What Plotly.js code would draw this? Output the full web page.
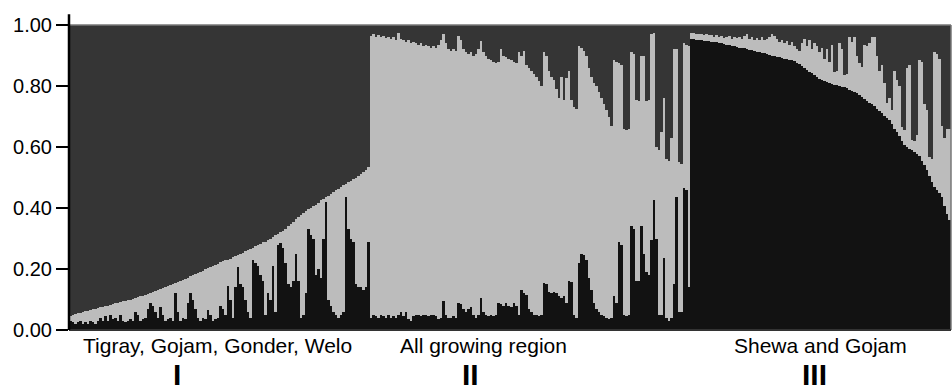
<!DOCTYPE html>
<html><head><meta charset="utf-8">
<script src="https://cdn.plot.ly/plotly-3.0.1.min.js"></script>
<style>html,body{margin:0;padding:0;background:#fff;}#chart{width:952px;height:392px;}</style>
</head><body><div id="chart"></div>
<script>
// Group labels and numerals
const groupLabels = ["Tigray, Gojam, Gonder, Welo", "All growing region", "Shewa and Gojam"];
const groupNumerals = ["I", "II", "III"];
const yTickVals = [0, 0.2, 0.4, 0.6, 0.8, 1.0];
const yTickText = ["0.00", "0.20", "0.40", "0.60", "0.80", "1.00"];

// Group I: black membership and top of light-gray component (cumulative), per individual
const blackI = [0.03,0.025,0.02,0.025,0.03,0.02,0.025,0.02,0.03,0.025,0.02,0.03,
0.04,0.03,0.045,0.03,0.05,0.035,0.04,0.03,0.05,
0.03,0.025,0.03,0.035,0.03,
0.06,0.05,
0.03,0.035,0.04,
0.07,0.09,0.08,0.06,0.04,
0.077,0.05,
0.03,0.035,0.04,0.03,
0.12,0.06,
0.03,0.04,0.035,
0.09,0.12,0.10,0.07,0.04,
0.03,0.04,0.035,
0.065,0.05,
0.03,0.035,0.04,
0.08,0.07,0.05,
0.144,0.10,
0.04,
0.14,0.207,0.15,0.14,
0.10,0.06,
0.04,
0.23,0.22,0.21,0.18,0.16,
0.05,
0.12,0.10,
0.21,
0.06,
0.28,0.285,0.27,0.22,
0.15,0.14,0.16,
0.25,
0.16,
0.04,0.05,0.12,
0.33,0.31,0.30,
0.18,0.20,0.17,
0.30,
0.42,0.10,
0.08,0.06,0.05,0.04,0.05,0.06,
0.437,
0.33,0.30,0.29,
0.15,0.14,0.14,0.13,0.14,
0.29];
const lightTopI = [0.045,0.05,0.052,0.055,0.057,0.06,0.062,0.063,0.066,0.068,
0.07,0.072,0.074,0.076,0.078,0.08,0.083,0.085,0.087,0.09,
0.092,0.094,0.096,0.098,0.10,0.102,0.105,0.107,0.11,0.113,
0.115,0.118,0.12,0.124,0.127,0.13,0.133,0.137,0.14,0.144,
0.148,0.151,0.155,0.158,0.162,0.165,0.168,0.172,0.176,0.18,
0.185,0.188,0.19,0.195,0.2,0.203,0.205,0.21,0.214,0.218,
0.222,0.225,0.228,0.23,0.234,0.238,0.242,0.245,0.248,0.252,
0.258,0.262,0.266,0.27,0.274,0.278,0.282,0.287,0.29,0.295,
0.30,0.305,0.31,0.315,0.32,0.326,0.332,0.34,0.348,0.355,
0.365,0.372,0.378,0.385,0.39,0.396,0.40,0.405,0.41,0.415,
0.425,0.43,0.436,0.44,0.446,0.452,0.458,0.462,0.468,0.474,
0.48,0.486,0.49,0.496,0.50,0.506,0.512,0.518,0.525,0.535];

// Group II
const blackII = [0.04,0.05,0.045,0.04,0.05,0.045,0.04,0.05,0.04,0.045,
0.04,0.05,0.06,0.045,0.06,0.035,0.03,0.045,0.05,0.05,
0.045,0.05,0.05,0.045,0.05,0.05,0.045,0.035,0.04,0.096,
0.05,0.04,0.04,0.045,0.04,0.09,0.085,0.07,0.06,0.07,
0.075,0.05,0.04,0.05,0.104,0.06,0.05,0.045,0.05,0.045,
0.05,0.09,0.085,0.08,0.09,0.08,0.075,0.09,0.08,0.05,
0.13,0.12,0.115,0.07,0.06,0.05,0.05,0.045,0.05,0.153,
0.15,0.125,0.12,0.125,0.12,0.11,0.105,0.11,0.09,0.16,
0.158,0.05,0.04,0.22,0.25,0.245,0.23,0.17,0.13,0.09,
0.07,0.06,0.05,0.045,0.04,0.035,0.04,0.11,0.09,0.29,
0.28,0.05,0.045,0.05,0.34,0.33,0.16,0.16,0.34,0.25,
0.19,0.18,0.295,0.426,0.30,0.05,0.05,0.235,0.04,0.03,
0.04,0.15,0.437,0.06,0.06,0.465,0.46,0.14];
const lightTopII = [0.965,0.97,0.962,0.968,0.96,0.965,0.958,0.962,0.955,0.96,
0.95,0.975,0.955,0.95,0.945,0.95,0.94,0.945,0.94,0.935,
0.94,0.93,0.935,0.93,0.925,0.93,0.925,0.935,0.95,0.97,
0.94,0.92,0.915,0.92,0.915,0.965,0.95,0.92,0.91,0.905,
0.91,0.90,0.905,0.92,0.948,0.91,0.90,0.89,0.885,0.88,
0.875,0.88,0.92,0.90,0.895,0.89,0.885,0.88,0.875,0.91,
0.90,0.915,0.87,0.86,0.85,0.84,0.83,0.815,0.80,0.912,
0.90,0.85,0.83,0.82,0.79,0.76,0.83,0.755,0.825,0.85,
0.755,0.73,0.725,0.93,0.925,0.915,0.90,0.86,0.83,0.81,
0.80,0.78,0.76,0.74,0.72,0.70,0.67,0.885,0.88,0.875,
0.87,0.66,0.655,0.66,0.91,0.905,0.754,0.75,0.90,0.90,
0.75,0.755,0.97,0.974,0.60,0.59,0.65,0.76,0.56,0.555,
0.63,0.92,0.92,0.55,0.545,0.94,0.935,0.93];

// Group III
const blackIII = [0.955,0.953,0.952,0.951,0.95,0.949,0.948,0.947,0.945,0.944,
0.943,0.941,0.94,0.938,0.936,0.934,0.932,0.93,0.928,0.926,
0.925,0.923,0.921,0.919,0.917,0.915,0.913,0.911,0.909,0.907,
0.905,0.903,0.9,0.898,0.896,0.894,0.892,0.89,0.888,0.886,
0.884,0.881,0.877,0.872,0.866,0.86,0.852,0.847,0.842,0.836,
0.83,0.824,0.82,0.816,0.812,0.809,0.806,0.804,0.802,0.8,
0.798,0.796,0.792,0.788,0.784,0.78,0.776,0.77,0.765,0.758,
0.75,0.745,0.74,0.733,0.726,0.718,0.71,0.702,0.695,0.688,
0.675,0.66,0.648,0.635,0.62,0.605,0.6,0.595,0.59,0.585,
0.578,0.57,0.555,0.54,0.525,0.505,0.485,0.47,0.46,0.45,
0.437,0.405,0.38,0.36];
const lightTopIII = [0.975,0.974,0.972,0.97,0.972,0.968,0.97,0.966,0.968,0.962,
0.966,0.96,0.964,0.958,0.962,0.965,0.955,0.96,0.958,0.962,
0.955,0.965,0.97,0.955,0.96,0.95,0.958,0.952,0.96,0.95,
0.955,0.96,0.97,0.965,0.955,0.945,0.95,0.94,0.948,0.935,
0.945,0.93,0.92,0.915,0.94,0.955,0.93,0.95,0.92,0.94,
0.93,0.91,0.925,0.89,0.92,0.88,0.935,0.846,0.85,0.94,
0.92,0.836,0.84,0.96,0.945,0.96,0.9,0.874,0.863,0.935,
0.93,0.94,0.96,0.96,0.9,0.85,0.87,0.81,0.743,0.76,
0.72,0.85,0.82,0.8,0.666,0.656,0.86,0.87,0.623,0.62,
0.64,0.885,0.88,0.74,0.72,0.567,0.56,0.91,0.905,0.89,
0.67,0.63,0.66,0.66];

const black = blackI.concat(blackII, blackIII);
const lightTop = lightTopI.concat(lightTopII, lightTopIII);
const idx = black.map((_, i) => i);
const qBlack = black;
const qLight = lightTop.map((t, i) => t - black[i]);
const qDark = lightTop.map(t => 1 - t);

const colors = {black: "#121212", light: "#bcbcbc", dark: "#353535"};
const mk = (y, c) => ({type: "bar", x: idx, y: y, marker: {color: c, line: {width: 0}}, hoverinfo: "skip", showlegend: false});
const data = [mk(qBlack, colors.black), mk(qLight, colors.light), mk(qDark, colors.dark)];

const font = "Liberation Sans, Arial, Helvetica, sans-serif";
const labelX = [0.168, 0.4705, 0.8526];
const numX = [0.1224, 0.4552, 0.8458];
const annotations = [];
groupLabels.forEach((t, i) => annotations.push({text: t, xref: "paper", yref: "paper", x: labelX[i], y: 0, yanchor: "top", xanchor: "center", yshift: -2, showarrow: false, font: {family: font, size: 21, color: "#000"}}));
groupNumerals.forEach((t, i) => annotations.push({text: t, xref: "paper", yref: "paper", x: numX[i], y: 0, yanchor: "top", xanchor: "center", yshift: -26, showarrow: false, font: {family: font, size: 30, color: "#000", weight: "bold"}}));

const layout = {
  width: 952, height: 392,
  margin: {l: 69, r: 1, t: 25, b: 62, pad: 0},
  paper_bgcolor: "#fff", plot_bgcolor: "#fff",
  barmode: "stack", bargap: 0,
  xaxis: {range: [-0.5, idx.length - 0.5], showticklabels: false, ticks: "", showgrid: false, zeroline: false, showline: false},
  yaxis: {range: [0, 1], tickvals: yTickVals, ticktext: yTickText, ticks: "outside", ticklen: 12, tickwidth: 2.5, tickcolor: "#000",
          showgrid: false, zeroline: false, showline: false, tickfont: {family: font, size: 20, color: "#000"}},
  annotations: annotations,
  shapes: [
    {type: "line", xref: "paper", yref: "paper", x0: 0, x1: 1, y0: 1, y1: 1, line: {color: "#777", width: 1.5}},
    {type: "line", xref: "paper", yref: "paper", x0: 1, x1: 1, y0: 0, y1: 1, line: {color: "#777", width: 1.5}},
    {type: "line", xref: "paper", yref: "paper", x0: 0, x1: 1, y0: 0, y1: 0, line: {color: "#333", width: 2}},
    {type: "line", xref: "paper", yref: "paper", x0: 0, x1: 0, y0: 0, y1: 1.035, line: {color: "#000", width: 2.5}}
  ]
};
Plotly.newPlot("chart", data, layout, {staticPlot: true, displayModeBar: false});
</script></body></html>
